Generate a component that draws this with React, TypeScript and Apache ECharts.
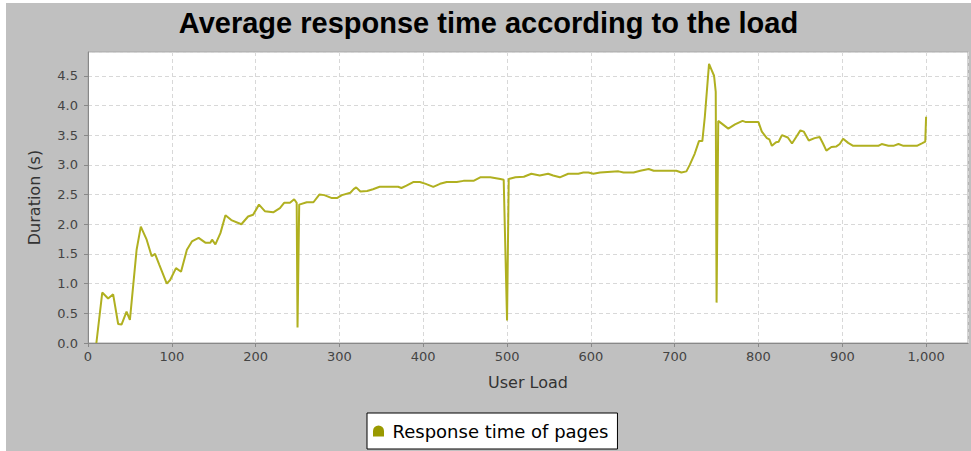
import React, { useEffect, useRef } from "react";
import * as echarts from "echarts";

const userLoad = [
  10, 17, 24, 30, 36, 40, 46, 50, 58, 63, 70, 76, 80, 85, 94, 98, 105, 111, 118, 124,
  132, 140, 146, 148, 152, 158, 164, 171, 183, 191, 197, 204, 211, 221, 229, 234, 241, 246, 249, 250,
  252, 261, 269, 276, 282, 291, 297, 303, 313, 317, 320, 325, 333, 340, 348, 370, 374, 380, 388, 396,
  403, 412, 420, 428, 440, 448, 460, 468, 480, 492, 496, 500, 502, 510, 520, 529, 539, 549, 555, 563,
  573, 585, 591, 597, 603, 611, 633, 639, 651, 659, 669, 675, 702, 708, 714, 718, 724, 729, 733, 736,
  741, 744, 747, 749, 750, 752, 764, 772, 781, 785, 800, 804, 810, 813, 816, 821, 824, 828, 835, 840,
  845, 850, 854, 860, 867, 873, 877, 881, 887, 893, 897, 901, 907, 913, 943, 947, 955, 961, 967, 973,
  989, 995, 999, 1000,
];

const responseTime = [
  0.0, 0.85, 0.75, 0.82, 0.32, 0.31, 0.53, 0.39, 1.57, 1.96, 1.74, 1.46, 1.5, 1.32, 1.0, 1.06, 1.26, 1.2, 1.57, 1.71,
  1.77, 1.69, 1.69, 1.74, 1.66, 1.85, 2.15, 2.07, 2.0, 2.13, 2.16, 2.33, 2.22, 2.2, 2.27, 2.36, 2.36, 2.42, 2.36, 0.26,
  2.33, 2.37, 2.37, 2.5, 2.49, 2.44, 2.44, 2.49, 2.53, 2.59, 2.62, 2.55, 2.56, 2.59, 2.63, 2.63, 2.61, 2.65, 2.71, 2.71,
  2.68, 2.63, 2.68, 2.71, 2.71, 2.73, 2.73, 2.79, 2.79, 2.76, 2.75, 0.38, 2.76, 2.79, 2.8, 2.85, 2.82, 2.85, 2.82, 2.79,
  2.85, 2.85, 2.87, 2.87, 2.85, 2.87, 2.89, 2.87, 2.87, 2.9, 2.93, 2.9, 2.9, 2.87, 2.89, 3.0, 3.19, 3.4, 3.4, 3.81,
  4.7, 4.6, 4.5, 4.23, 0.68, 3.74, 3.61, 3.68, 3.74, 3.72, 3.72, 3.56, 3.45, 3.43, 3.32, 3.38, 3.39, 3.5, 3.46, 3.36,
  3.47, 3.58, 3.56, 3.41, 3.45, 3.47, 3.36, 3.24, 3.3, 3.31, 3.35, 3.44, 3.37, 3.32, 3.32, 3.35, 3.32, 3.32, 3.35, 3.32,
  3.32, 3.36, 3.39, 3.81,
];

const seriesName = "Response time of pages";
const chartTitle = "Average response time according to the load";
const xAxisName = "User Load";
const yAxisName = "Duration (s)";

export default function App() {
  const ref = useRef<HTMLDivElement>(null);

  useEffect(() => {
    if (!ref.current) return;
    const chart = echarts.init(ref.current, undefined, { renderer: "svg" });
    const data = userLoad.map((x, i) => [x, responseTime[i]]);
    const font = "DejaVu Sans";
    chart.setOption({
      animation: false,
      backgroundColor: "#c0c0c0",
      title: {
        text: chartTitle,
        left: "center",
        top: 0,
        textStyle: {
          fontFamily: "Liberation Sans",
          fontWeight: "bold",
          fontSize: 29,
          color: "#000",
        },
      },
      legend: {
        left: 361,
        top: 410,
        orient: "horizontal",
        backgroundColor: "#ffffff",
        borderColor: "#000000",
        borderWidth: 1,
        borderRadius: 0,
        padding: [8, 9, 8, 6],
        itemWidth: 12,
        itemHeight: 11,
        icon: "path://M0,10 L0,5 A5,5 0 0 1 10,5 L10,10 Z",
        textStyle: {
          fontFamily: font,
          fontSize: 18,
          color: "#000",
          lineHeight: 20,
          padding: [0, 0, 0, 3],
        },
        data: [{ name: seriesName, itemStyle: { color: "#999900" } }],
      },
      grid: {
        left: 82,
        top: 49,
        right: 3,
        bottom: 108,
        show: true,
        backgroundColor: "#ffffff",
        borderColor: "#a8a8a8",
        borderWidth: 1,
      },
      xAxis: {
        type: "value",
        min: 0,
        max: 1050,
        interval: 100,
        name: xAxisName,
        nameLocation: "middle",
        nameGap: 31,
        nameTextStyle: { fontFamily: font, fontSize: 16, color: "#333" },
        axisLine: { show: true, lineStyle: { color: "#888888", width: 1 } },
        axisTick: { show: true, length: 4, lineStyle: { color: "#888888" } },
        axisLabel: {
          fontFamily: font,
          fontSize: 13,
          color: "#444",
          margin: 7,
          showMaxLabel: false,
          formatter: (v: number) => (v % 100 === 0 ? v.toLocaleString("en-US") : ""),
        },
        splitLine: {
          show: true,
          lineStyle: { color: "#d8d8d8", type: [4, 3], width: 1 },
        },
      },
      yAxis: {
        type: "value",
        min: 0,
        max: 4.9,
        interval: 0.5,
        name: yAxisName,
        nameLocation: "middle",
        nameGap: 46,
        nameTextStyle: { fontFamily: font, fontSize: 16, color: "#333" },
        axisLine: { show: true, lineStyle: { color: "#888888", width: 1 } },
        axisTick: { show: true, length: 4, lineStyle: { color: "#888888" } },
        axisLabel: {
          fontFamily: font,
          fontSize: 13,
          color: "#444",
          margin: 10,
          showMaxLabel: false,
          formatter: (v: number) =>
            Math.abs(v * 2 - Math.round(v * 2)) < 1e-6 ? v.toFixed(1) : "",
        },
        splitLine: {
          show: true,
          lineStyle: { color: "#d8d8d8", type: [4, 3], width: 1 },
        },
      },
      series: [
        {
          name: seriesName,
          type: "line",
          data,
          showSymbol: false,
          symbol: "none",
          color: "#999900",
          lineStyle: { color: "#b0b020", width: 2 },
        },
      ],
    });
    return () => chart.dispose();
  }, []);

  return (
    <div
      style={{
        position: "absolute",
        left: 0,
        top: 0,
        width: 971,
        height: 451,
        background: "#ffffff",
        overflow: "hidden",
      }}
    >
      <div
        ref={ref}
        style={{ position: "absolute", left: 6, top: 3, width: 965, height: 448 }}
      />
    </div>
  );
}
